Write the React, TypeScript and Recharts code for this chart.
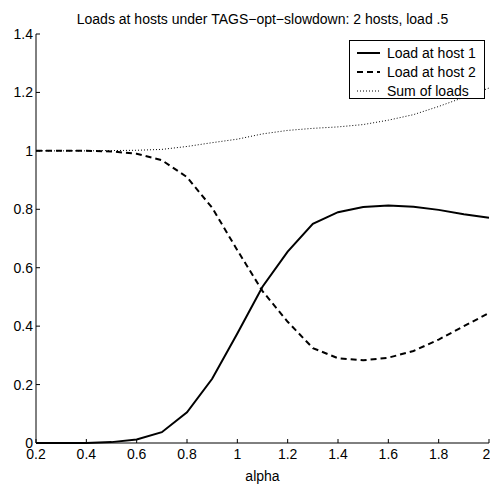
import { Legend, Line, LineChart, XAxis, YAxis } from 'recharts'

const alphaValues = [0.2, 0.3, 0.4, 0.5, 0.6, 0.7, 0.8, 0.9, 1.0, 1.1, 1.2, 1.3, 1.4, 1.5, 1.6, 1.7, 1.8, 1.9, 2.0]
const loadHost1 = [0, 0, 0, 0.003, 0.012, 0.037, 0.105, 0.22, 0.375, 0.535, 0.655, 0.75, 0.79, 0.808, 0.813, 0.809, 0.798, 0.783, 0.771]
const loadHost2 = [1, 1, 1, 0.998, 0.99, 0.968, 0.91, 0.805, 0.66, 0.52, 0.415, 0.325, 0.29, 0.283, 0.292, 0.315, 0.354, 0.4, 0.445]
const sumOfLoads = [1, 1, 1, 1.001, 1.002, 1.005, 1.015, 1.028, 1.04, 1.058, 1.07, 1.077, 1.082, 1.09, 1.105, 1.124, 1.152, 1.183, 1.215]

const xTicks = [0.2, 0.4, 0.6, 0.8, 1, 1.2, 1.4, 1.6, 1.8, 2]
const yTicks = [0, 0.2, 0.4, 0.6, 0.8, 1, 1.2, 1.4]

const data = alphaValues.map((a, i) => ({
  alpha: a,
  host1: loadHost1[i],
  host2: loadHost2[i],
  sum: sumOfLoads[i],
}))

const font = '"Liberation Sans", Arial, sans-serif'
const tickStyle = { fill: '#000', fontSize: 14, fontFamily: font }

const legendRows = [
  { key: 'host1', label: 'Load at host 1', dash: undefined, width: 2 },
  { key: 'host2', label: 'Load at host 2', dash: '6 4', width: 2 },
  { key: 'sum', label: 'Sum of loads', dash: '1 2', width: 1 },
]

const LegendBox = () => (
  <div
    style={{
      width: 134,
      height: 57,
      border: '1px solid #000',
      background: '#fff',
      fontFamily: font,
      fontSize: 14,
      boxSizing: 'content-box',
    }}
  >
    {legendRows.map((r, i) => (
      <div key={r.key} style={{ position: 'absolute', top: 4 + i * 19, left: 0, height: 18, display: 'flex', alignItems: 'center' }}>
        <svg width={38} height={18} style={{ display: 'block' }}>
          <line x1={8} x2={31} y1={9} y2={9} stroke="#000" strokeWidth={r.width} strokeDasharray={r.dash} />
        </svg>
        <span style={{ lineHeight: '18px', whiteSpace: 'nowrap' }}>{r.label}</span>
      </div>
    ))}
  </div>
)

const App = () => {
  return (
    <div style={{ position: 'absolute', left: 0, top: 0, width: 490, height: 484, fontFamily: font }}>
      <div
        style={{
          position: 'absolute',
          top: 10,
          left: 36,
          width: 453,
          textAlign: 'center',
          fontSize: 14,
          lineHeight: '18px',
          color: '#000',
        }}
      >
        Loads at hosts under TAGS−opt−slowdown: 2 hosts, load .5
      </div>
      <LineChart width={490} height={484} data={data} margin={{ top: 34, right: 1, bottom: 0, left: 0 }}>
        <XAxis
          dataKey="alpha"
          type="number"
          domain={[0.2, 2]}
          ticks={xTicks}
          tickSize={-4}
          tickMargin={10}
          height={41}
          stroke="#000"
          tick={tickStyle}
          label={{ value: 'alpha', position: 'insideBottom', offset: 3, fill: '#000', fontSize: 14, fontFamily: font }}
        />
        <XAxis
          xAxisId="top"
          orientation="top"
          dataKey="alpha"
          type="number"
          domain={[0.2, 2]}
          ticks={xTicks}
          tickSize={-4}
          height={0}
          stroke="#000"
          tick={false}
        />
        <YAxis
          type="number"
          domain={[0, 1.4]}
          ticks={yTicks}
          tickSize={-4}
          tickMargin={7}
          width={36}
          stroke="#000"
          tick={tickStyle}
        />
        <YAxis
          yAxisId="right"
          orientation="right"
          type="number"
          domain={[0, 1.4]}
          ticks={yTicks}
          tickSize={-4}
          width={0}
          stroke="#000"
          tick={false}
        />
        <Legend
          layout="vertical"
          verticalAlign="middle"
          align="center"
          wrapperStyle={{ top: 40, left: 349, width: 136, height: 59 }}
          content={() => <LegendBox />}
        />
        <Line dataKey="host1" type="linear" stroke="#000" strokeWidth={2} dot={false} isAnimationActive={false} />
        <Line dataKey="host2" type="linear" stroke="#000" strokeWidth={2} strokeDasharray="6 4" dot={false} isAnimationActive={false} />
        <Line dataKey="sum" type="linear" stroke="#000" strokeWidth={1} strokeDasharray="1 2" dot={false} isAnimationActive={false} />
      </LineChart>
    </div>
  )
}

export default App
